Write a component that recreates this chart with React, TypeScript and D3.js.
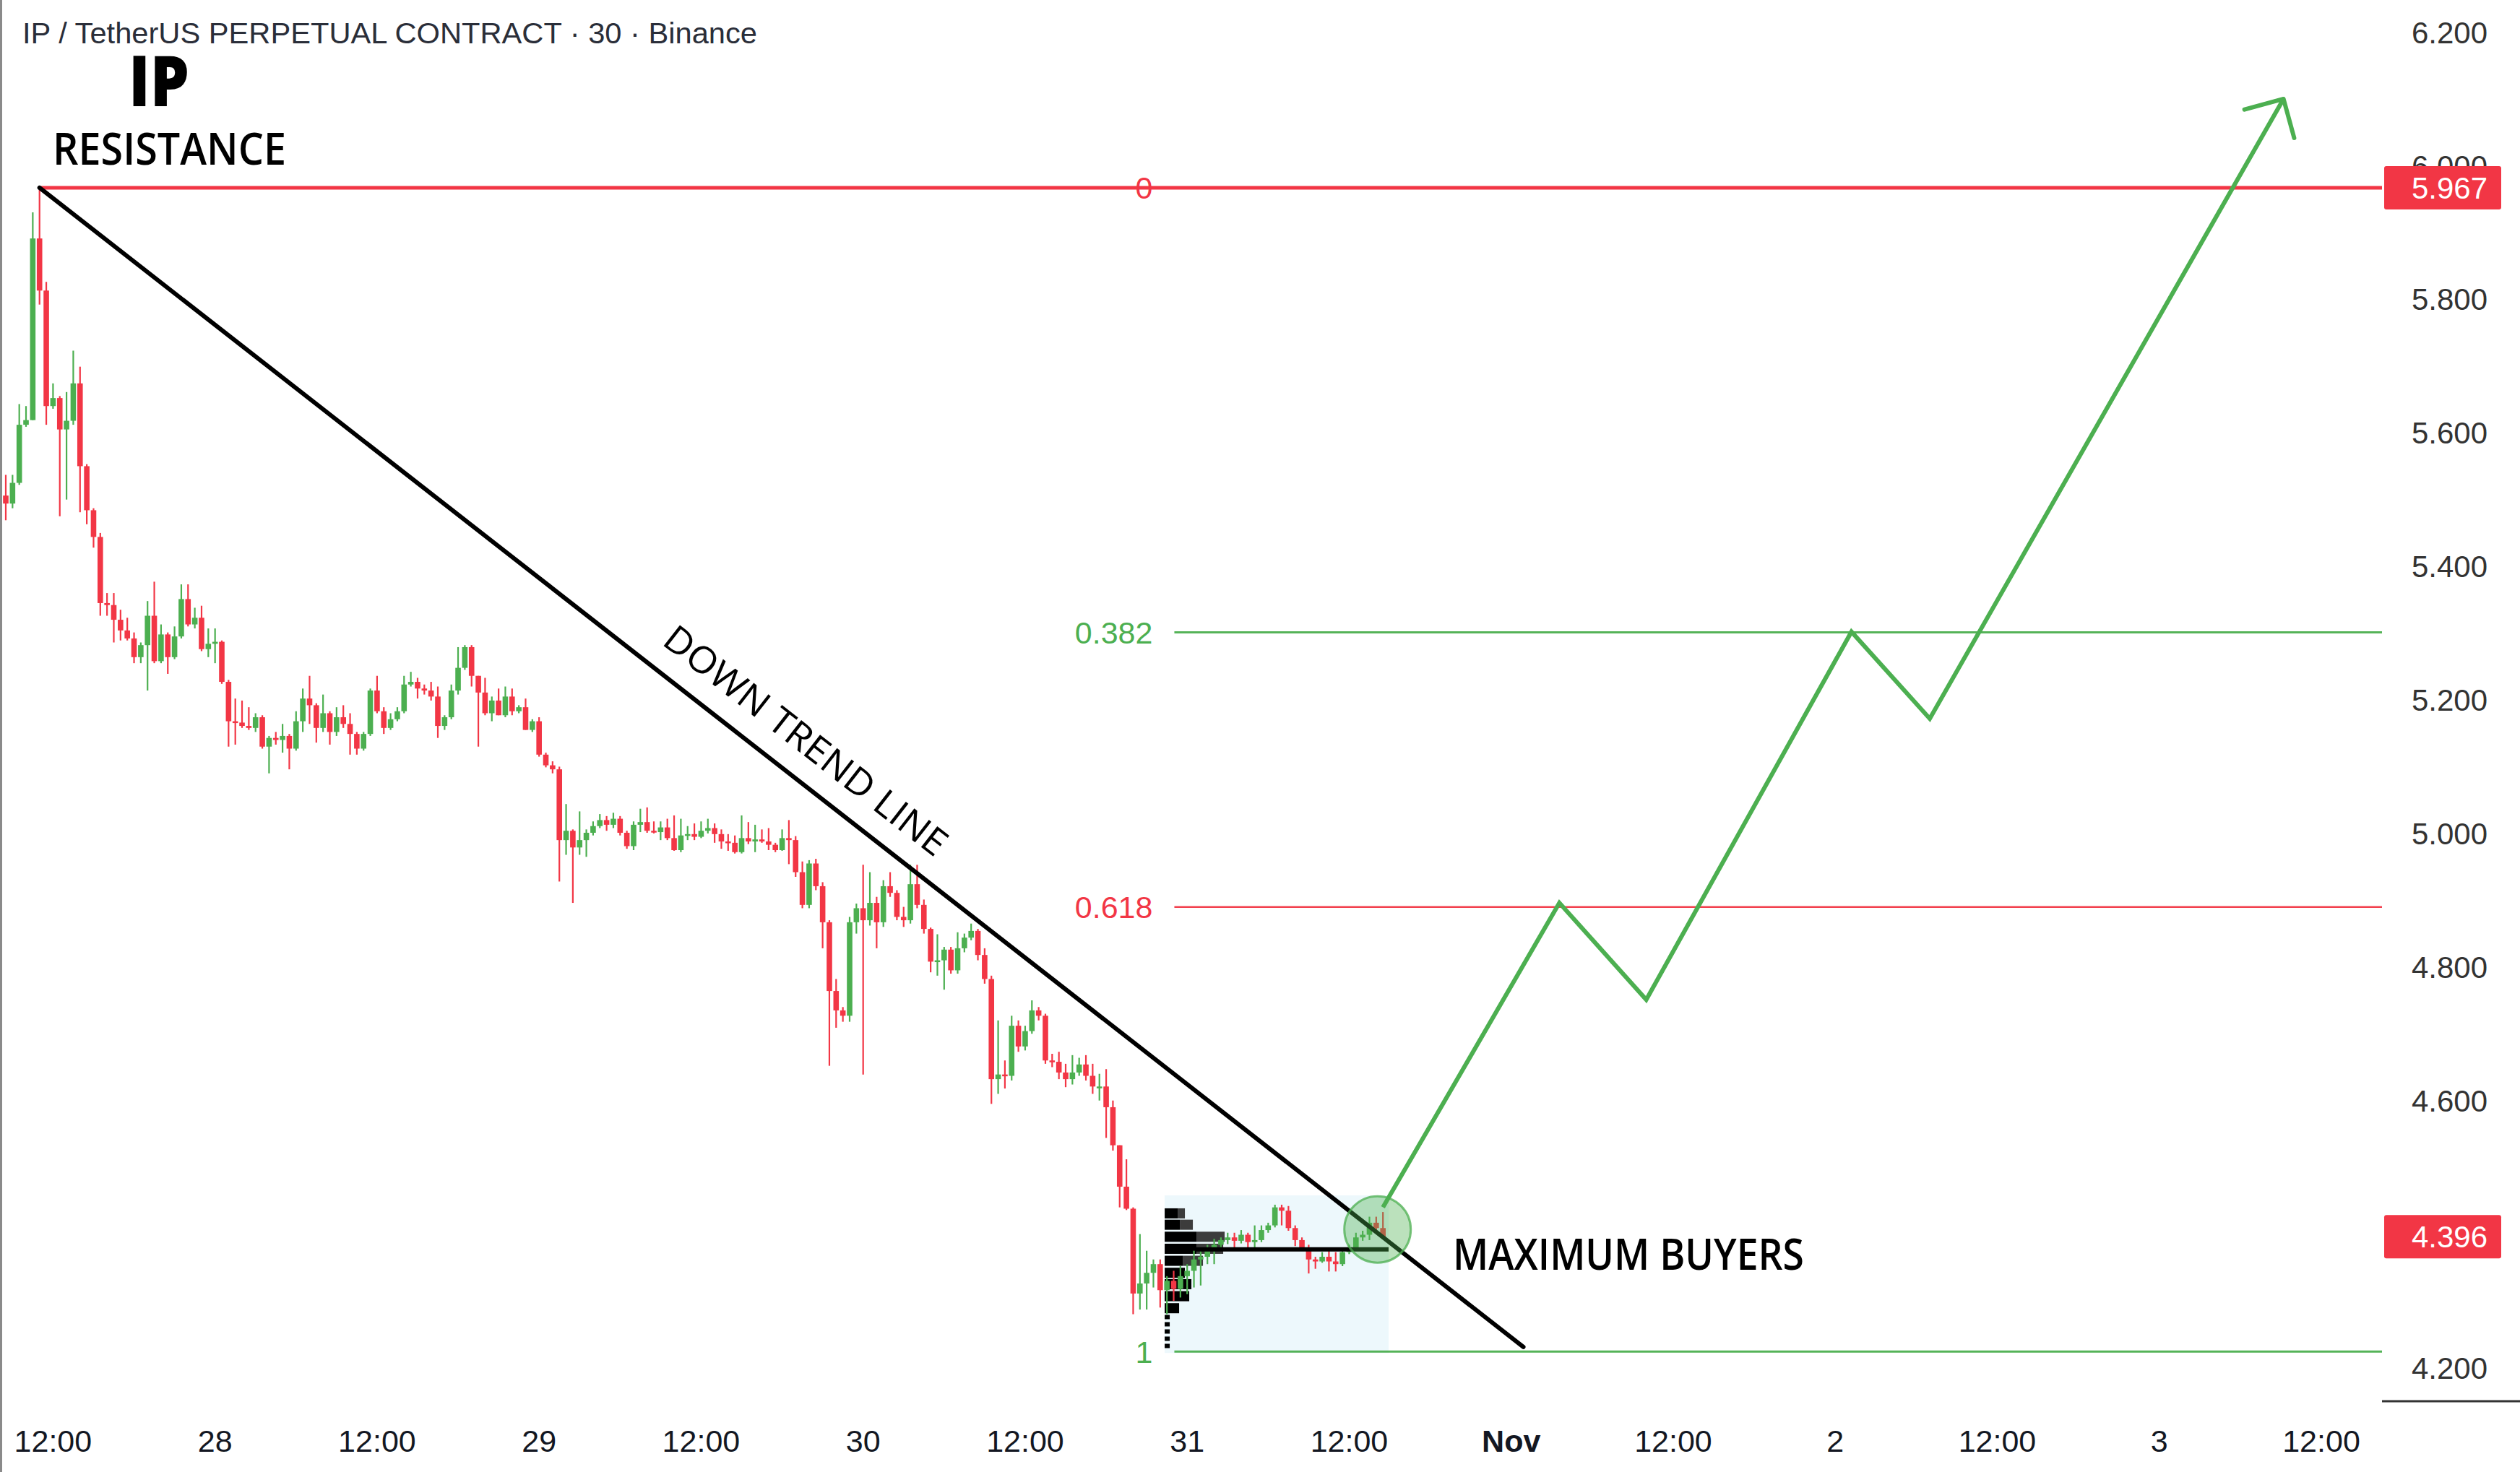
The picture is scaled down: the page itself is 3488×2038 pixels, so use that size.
import React from "react";
import * as d3 from "d3";

// ---------- data ----------
const firstCandleTime = Date.UTC(2024, 9, 27, 8, 0); // 30-minute candles
const candleMinutes = 30;
const firstOpen = 5.469;
const closes = [
  5.506, 5.494, 5.525, 5.612, 5.619, 5.891, 5.813, 5.640, 5.652, 5.605,
  5.618, 5.674, 5.550, 5.484, 5.444, 5.345, 5.342, 5.320, 5.304, 5.292,
  5.264, 5.282, 5.326, 5.258, 5.298, 5.264, 5.295, 5.351, 5.313, 5.323,
  5.276, 5.284, 5.287, 5.227, 5.168, 5.166, 5.161, 5.158, 5.174, 5.130,
  5.143, 5.140, 5.146, 5.127, 5.168, 5.202, 5.192, 5.158, 5.180, 5.152,
  5.174, 5.164, 5.149, 5.127, 5.149, 5.214, 5.183, 5.158, 5.171, 5.183,
  5.223, 5.227, 5.217, 5.214, 5.205, 5.161, 5.174, 5.214, 5.248, 5.279,
  5.236, 5.211, 5.180, 5.199, 5.177, 5.205, 5.183, 5.189, 5.155, 5.168,
  5.118, 5.102, 5.096, 4.990, 5.004, 4.979, 4.990, 5.001, 5.011, 5.020,
  5.013, 5.022, 5.001, 4.981, 5.013, 5.017, 5.004, 5.002, 5.009, 4.993,
  4.975, 4.997, 4.999, 4.995, 5.004, 5.008, 4.999, 4.988, 4.986, 4.972,
  4.993, 4.988, 4.991, 4.988, 4.983, 4.975, 4.993, 4.990, 4.942, 4.893,
  4.955, 4.921, 4.867, 4.764, 4.735, 4.727, 4.867, 4.888, 4.870, 4.896,
  4.867, 4.921, 4.911, 4.875, 4.870, 4.924, 4.893, 4.857, 4.808, 4.810,
  4.826, 4.795, 4.828, 4.844, 4.854, 4.818, 4.782, 4.632, 4.639, 4.637,
  4.712, 4.681, 4.704, 4.735, 4.727, 4.660, 4.658, 4.642, 4.632, 4.642,
  4.654, 4.637, 4.621, 4.621, 4.590, 4.533, 4.471, 4.438, 4.311, 4.326,
  4.342, 4.355, 4.316, 4.330, 4.318, 4.337, 4.345, 4.362, 4.366, 4.377,
  4.384, 4.391, 4.395, 4.390, 4.399, 4.388, 4.391, 4.406, 4.413, 4.440,
  4.435, 4.409, 4.391, 4.380, 4.362, 4.359, 4.366, 4.359, 4.355, 4.373,
  4.380, 4.395, 4.399, 4.417, 4.409, 4.396,
];
const highs = [
  5.512, 5.537, 5.537, 5.643, 5.640, 5.930, 5.967, 5.826, 5.674, 5.655,
  5.661, 5.723, 5.699, 5.553, 5.487, 5.450, 5.360, 5.360, 5.335, 5.323,
  5.301, 5.286, 5.348, 5.377, 5.313, 5.301, 5.310, 5.373, 5.373, 5.338,
  5.341, 5.307, 5.307, 5.289, 5.230, 5.202, 5.199, 5.189, 5.180, 5.177,
  5.146, 5.152, 5.164, 5.149, 5.183, 5.217, 5.236, 5.195, 5.208, 5.183,
  5.189, 5.192, 5.180, 5.152, 5.152, 5.217, 5.236, 5.189, 5.180, 5.189,
  5.236, 5.242, 5.233, 5.223, 5.227, 5.220, 5.177, 5.223, 5.279, 5.282,
  5.282, 5.236, 5.233, 5.205, 5.217, 5.220, 5.217, 5.192, 5.202, 5.171,
  5.174, 5.121, 5.108, 5.100, 5.044, 5.006, 5.033, 5.006, 5.018, 5.029,
  5.026, 5.031, 5.026, 5.004, 5.018, 5.037, 5.039, 5.018, 5.018, 5.022,
  5.027, 5.022, 5.011, 5.015, 5.018, 5.022, 5.015, 5.006, 4.999, 4.997,
  5.027, 5.017, 5.013, 5.006, 5.008, 4.986, 5.006, 5.020, 4.996, 4.958,
  4.960, 4.962, 4.927, 4.870, 4.782, 4.740, 4.875, 4.895, 4.953, 4.942,
  4.905, 4.930, 4.942, 4.915, 4.890, 4.953, 4.953, 4.901, 4.859, 4.849,
  4.830, 4.830, 4.852, 4.850, 4.865, 4.857, 4.828, 4.787, 4.720, 4.660,
  4.727, 4.720, 4.712, 4.750, 4.740, 4.730, 4.670, 4.673, 4.655, 4.668,
  4.664, 4.668, 4.655, 4.640, 4.647, 4.600, 4.533, 4.512, 4.440, 4.400,
  4.375, 4.362, 4.362, 4.337, 4.345, 4.352, 4.355, 4.375, 4.377, 4.384,
  4.393, 4.395, 4.402, 4.402, 4.406, 4.402, 4.413, 4.413, 4.417, 4.444,
  4.444, 4.442, 4.413, 4.395, 4.384, 4.366, 4.373, 4.377, 4.373, 4.377,
  4.384, 4.402, 4.405, 4.426, 4.426, 4.433,
];
const lows = [
  5.456, 5.469, 5.487, 5.522, 5.609, 5.619, 5.792, 5.612, 5.636, 5.475,
  5.500, 5.612, 5.481, 5.463, 5.428, 5.326, 5.326, 5.286, 5.289, 5.289,
  5.255, 5.255, 5.214, 5.255, 5.255, 5.239, 5.261, 5.292, 5.310, 5.307,
  5.273, 5.264, 5.255, 5.224, 5.130, 5.133, 5.158, 5.155, 5.152, 5.127,
  5.090, 5.133, 5.121, 5.096, 5.124, 5.152, 5.164, 5.136, 5.152, 5.133,
  5.146, 5.158, 5.118, 5.118, 5.124, 5.146, 5.180, 5.149, 5.155, 5.168,
  5.180, 5.220, 5.202, 5.208, 5.199, 5.143, 5.155, 5.171, 5.208, 5.245,
  5.220, 5.130, 5.177, 5.168, 5.177, 5.174, 5.177, 5.180, 5.155, 5.152,
  5.115, 5.099, 5.090, 4.928, 4.968, 4.896, 4.968, 4.965, 4.997, 5.008,
  5.004, 5.008, 4.997, 4.977, 4.975, 5.002, 5.001, 5.000, 4.990, 4.990,
  4.974, 4.972, 4.990, 4.990, 4.993, 5.000, 4.986, 4.977, 4.974, 4.970,
  4.970, 4.984, 4.972, 4.986, 4.975, 4.972, 4.974, 4.954, 4.935, 4.888,
  4.888, 4.915, 4.828, 4.652, 4.709, 4.718, 4.718, 4.850, 4.639, 4.862,
  4.828, 4.860, 4.905, 4.870, 4.860, 4.865, 4.888, 4.850, 4.792, 4.787,
  4.766, 4.790, 4.790, 4.822, 4.840, 4.810, 4.775, 4.595, 4.610, 4.618,
  4.630, 4.673, 4.675, 4.700, 4.720, 4.655, 4.650, 4.632, 4.620, 4.624,
  4.637, 4.630, 4.610, 4.600, 4.544, 4.525, 4.440, 4.436, 4.280, 4.287,
  4.287, 4.320, 4.290, 4.280, 4.300, 4.305, 4.310, 4.320, 4.323, 4.355,
  4.355, 4.380, 4.385, 4.380, 4.386, 4.377, 4.380, 4.388, 4.402, 4.410,
  4.413, 4.405, 4.382, 4.377, 4.341, 4.348, 4.357, 4.344, 4.344, 4.352,
  4.370, 4.377, 4.390, 4.391, 4.402, 4.394,
];

const yTickValues = [4.2, 4.4, 4.6, 4.8, 5.0, 5.2, 5.4, 5.6, 5.8, 6.0, 6.2];
const xTickTimes = [
  Date.UTC(2024, 9, 27, 12), Date.UTC(2024, 9, 28, 0), Date.UTC(2024, 9, 28, 12),
  Date.UTC(2024, 9, 29, 0), Date.UTC(2024, 9, 29, 12), Date.UTC(2024, 9, 30, 0),
  Date.UTC(2024, 9, 30, 12), Date.UTC(2024, 9, 31, 0), Date.UTC(2024, 9, 31, 12),
  Date.UTC(2024, 10, 1, 0), Date.UTC(2024, 10, 1, 12), Date.UTC(2024, 10, 2, 0),
  Date.UTC(2024, 10, 2, 12), Date.UTC(2024, 10, 3, 0), Date.UTC(2024, 10, 3, 12),
];
const xTickLabels = ["12:00", "28", "12:00", "29", "12:00", "30", "12:00", "31", "12:00", "Nov", "12:00", "2", "12:00", "3", "12:00"];
const xTickBold = [false, false, false, false, false, false, false, false, false, true, false, false, false, false, false];

const fibHigh = 5.967;
const fibLow = 4.224;
const fibRatios = [0, 0.382, 0.618, 1];
const fibLabels = ["0", "0.382", "0.618", "1"];
const fibStartTime = Date.UTC(2024, 9, 30, 23, 3);

const trendStart = { time: Date.UTC(2024, 9, 27, 11, 0), price: 5.967 };
const trendEnd = { time: Date.UTC(2024, 10, 1, 0, 54), price: 4.231 };

const projTimes = [
  Date.UTC(2024, 9, 31, 14, 30), Date.UTC(2024, 10, 1, 3, 34), Date.UTC(2024, 10, 1, 10, 0),
  Date.UTC(2024, 10, 2, 1, 12), Date.UTC(2024, 10, 2, 7, 0), Date.UTC(2024, 10, 3, 9, 12),
];
const projPrices = [4.44, 4.896, 4.751, 5.302, 5.172, 6.1];

const circle = { time: Date.UTC(2024, 9, 31, 14, 6), price: 4.407 };

const boxStartTime = Date.UTC(2024, 9, 30, 22, 20);
const boxEndTime = Date.UTC(2024, 9, 31, 14, 55);
const boxTop = 4.458;
const boxBottom = 4.222;
const pocPrice = 4.377;
const pocStartTime = Date.UTC(2024, 9, 31, 0, 36);

const profilePrices = [4.431, 4.414, 4.396, 4.378, 4.360, 4.342, 4.325, 4.307, 4.289];
const profileVolA = [18, 21, 44, 44, 25, 28, 37, 34, 20];
const profileVolB = [10, 18, 39, 37, 28, 0, 0, 0, 0];
const profileTailTop = 4.279;
const profileTailBottom = 4.226;

const lastPrice = 4.396;
const resistancePrice = 5.967;

// ---------- styles ----------
const W = 3488;
const H = 2038;
const GREEN = "#4caf50";
const RED = "#f23645";
const plotRight = 3297;
const plotBottom = 1940;
const sans = "'Liberation Sans', Arial, sans-serif";
const open = "'Open Sans', 'Noto Sans', sans-serif";

export default function App() {
  const x = d3
    .scaleUtc()
    .domain([new Date(Date.UTC(2024, 9, 27, 12)), new Date(Date.UTC(2024, 10, 3, 12))])
    .range([73.4, 3213]);
  const y = d3.scaleLinear().domain([4.2, 6.2]).range([1893.5, 44.5]);
  const X = (t: number) => x(new Date(t));

  const candles = closes.map((c, i) => ({
    time: firstCandleTime + i * candleMinutes * 60000,
    open: i === 0 ? firstOpen : closes[i - 1],
    close: c,
    high: highs[i],
    low: lows[i],
  }));

  const fmt = d3.format(".3f");

  // projection path
  const projPts: [number, number][] = projTimes.map((t, i) => [X(t), y(projPrices[i])]);
  const line = d3.line();
  const n = projPts.length;
  const [tx, ty] = projPts[n - 1];
  const [px, py] = projPts[n - 2];
  const ang = Math.atan2(ty - py, tx - px);
  const armLen = 56;
  const a1 = ang + Math.PI - Math.PI / 4;
  const a2 = ang + Math.PI + Math.PI / 4;
  const arrowPath = `M${tx + armLen * Math.cos(a1)},${ty + armLen * Math.sin(a1)} L${tx},${ty} L${tx + armLen * Math.cos(a2)},${ty + armLen * Math.sin(a2)}`;

  // trend line
  const t1x = X(trendStart.time), t1y = y(trendStart.price);
  const t2x = X(trendEnd.time), t2y = y(trendEnd.price);
  const trendAngle = (Math.atan2(t2y - t1y, t2x - t1x) * 180) / Math.PI;
  const frac = 0.409;
  const ax = t1x + (t2x - t1x) * frac;
  const ay = t1y + (t2y - t1y) * frac;

  // profile
  const profStart = X(boxStartTime);
  const maxVol = d3.max(profileVolA.map((v, i) => v + profileVolB[i])) as number;
  const wScale = d3.scaleLinear().domain([0, maxVol]).range([0, 83]);
  const barH = 14;
  const tailYs = d3.range(y(profileTailTop), y(profileTailBottom), 10);

  const fibStartX = X(fibStartTime);

  return (
    <svg
      width={W}
      height={H}
      viewBox={`0 0 ${W} ${H}`}
      style={{ position: "absolute", left: 0, top: 0, background: "#fff" }}
    >
      <defs>
        <clipPath id="plot">
          <rect x={0} y={0} width={plotRight} height={plotBottom} />
        </clipPath>
      </defs>
      <rect x={0} y={0} width={W} height={H} fill="#ffffff" />

      <g clipPath="url(#plot)">
        {/* range box */}
        <rect
          x={profStart}
          y={y(boxTop)}
          width={X(boxEndTime) - profStart}
          height={y(boxBottom) - y(boxTop)}
          fill="#edf8fc"
        />

        {/* fib lines */}
        {fibRatios.map((r, i) => {
          const p = fibHigh - r * (fibHigh - fibLow);
          const col = i % 2 === 0 ? RED : GREEN;
          if (i === 0) return null;
          return (
            <line
              key={i}
              x1={fibStartX}
              x2={plotRight}
              y1={y(p)}
              y2={y(p)}
              stroke={col}
              strokeWidth={i === 2 ? 2.6 : 3}
              opacity={0.95}
            />
          );
        })}
        {/* resistance (fib 0) line */}
        <line x1={t1x} x2={plotRight} y1={y(resistancePrice)} y2={y(resistancePrice)} stroke={RED} strokeWidth={5} />
        {fibRatios.map((r, i) => {
          const p = fibHigh - r * (fibHigh - fibLow);
          const col = i % 2 === 0 ? RED : GREEN;
          return (
            <text
              key={"fl" + i}
              x={fibStartX - 30}
              y={y(p)}
              dy="0.36em"
              textAnchor="end"
              fontFamily={sans}
              fontSize={43}
              fill={col}
            >
              {fibLabels[i]}
            </text>
          );
        })}

        {/* volume profile */}
        {profilePrices.map((p, i) => (
          <g key={"pv" + i}>
            <rect x={profStart} y={y(p) - barH / 2} width={wScale(profileVolA[i])} height={barH} fill="#000" />
            {profileVolB[i] > 0 && (
              <rect
                x={profStart + wScale(profileVolA[i])}
                y={y(p) - barH / 2}
                width={wScale(profileVolB[i])}
                height={barH}
                fill="#3c3c3c"
              />
            )}
          </g>
        ))}
        {tailYs.map((ty2, i) => (
          <rect key={"tl" + i} x={profStart} y={ty2} width={7} height={6} fill="#000" />
        ))}

        {/* candles */}
        {candles.map((c, i) => {
          const cx = X(c.time);
          const up = c.close >= c.open;
          const col = up ? GREEN : RED;
          const top = y(Math.max(c.open, c.close));
          const h = Math.max(2.5, Math.abs(y(c.open) - y(c.close)));
          return (
            <g key={"c" + i}>
              <line x1={cx} x2={cx} y1={y(c.high)} y2={y(c.low)} stroke={col} strokeWidth={2.2} />
              <rect x={cx - 3.8} y={top} width={7.6} height={h} fill={col} />
            </g>
          );
        })}

        {/* POC line */}
        <line x1={X(pocStartTime)} x2={X(boxEndTime)} y1={y(pocPrice)} y2={y(pocPrice)} stroke="#000" strokeWidth={6} />

        {/* trend line */}
        <line x1={t1x} y1={t1y} x2={t2x} y2={t2y} stroke="#000" strokeWidth={6} strokeLinecap="round" />
        <g transform={`translate(${ax},${ay}) rotate(${trendAngle})`}>
          <text
            x={0}
            y={-32}
            fontFamily={open}
            fontSize={51}
            fill="#000"
            textLength={482}
            lengthAdjust="spacingAndGlyphs"
          >
            DOWN TREND LINE
          </text>
        </g>

        {/* circle */}
        <circle
          cx={X(circle.time)}
          cy={y(circle.price)}
          r={46}
          fill={GREEN}
          fillOpacity={0.38}
          stroke={GREEN}
          strokeOpacity={0.75}
          strokeWidth={3}
        />

        {/* projection */}
        <path d={line(projPts) as string} fill="none" stroke={GREEN} strokeWidth={6} strokeLinejoin="miter" />
        <path d={arrowPath} fill="none" stroke={GREEN} strokeWidth={6} strokeLinecap="round" strokeLinejoin="round" />
      </g>

      {/* annotations */}
      <text x={31} y={60} fontFamily={sans} fontSize={41.5} fill="#2a2e39" textLength={1017} lengthAdjust="spacingAndGlyphs">
        IP / TetherUS PERPETUAL CONTRACT · 30 · Binance
      </text>
      <text x={178} y={147} fontFamily={open} fontWeight={800} fontSize={98} fill="#000" textLength={84} lengthAdjust="spacingAndGlyphs">
        IP
      </text>
      <text x={73} y={228} fontFamily={open} fontWeight={600} fontSize={62} fill="#000" textLength={323} lengthAdjust="spacingAndGlyphs">
        RESISTANCE
      </text>
      <text x={2011} y={1758} fontFamily={open} fontWeight={600} fontSize={60} fill="#000" textLength={486} lengthAdjust="spacingAndGlyphs">
        MAXIMUM BUYERS
      </text>

      {/* price axis */}
      {yTickValues.map((v, i) => (
        <text key={"yt" + i} x={3443} y={y(v)} dy="0.36em" textAnchor="end" fontFamily={sans} fontSize={42} fill="#333">
          {fmt(v)}
        </text>
      ))}
      {[resistancePrice, lastPrice].map((p, i) => (
        <g key={"pl" + i}>
          <rect x={3300} y={y(p) - 30} width={162} height={60} rx={3} fill={RED} />
          <text x={3443} y={y(p)} dy="0.36em" textAnchor="end" fontFamily={sans} fontSize={42} fill="#fff">
            {fmt(p)}
          </text>
        </g>
      ))}

      {/* time axis */}
      {xTickTimes.map((t, i) => (
        <text
          key={"xt" + i}
          x={X(t)}
          y={1995}
          dy="0.36em"
          textAnchor="middle"
          fontFamily={sans}
          fontSize={43}
          fontWeight={xTickBold[i] ? 700 : 400}
          fill="#131722"
        >
          {xTickLabels[i]}
        </text>
      ))}

      {/* frame bits */}
      <line x1={plotRight} x2={W} y1={plotBottom} y2={plotBottom} stroke="#333" strokeWidth={3} />
      <line x1={1.5} x2={1.5} y1={0} y2={H} stroke="#8a8a8a" strokeWidth={3} />
    </svg>
  );
}
